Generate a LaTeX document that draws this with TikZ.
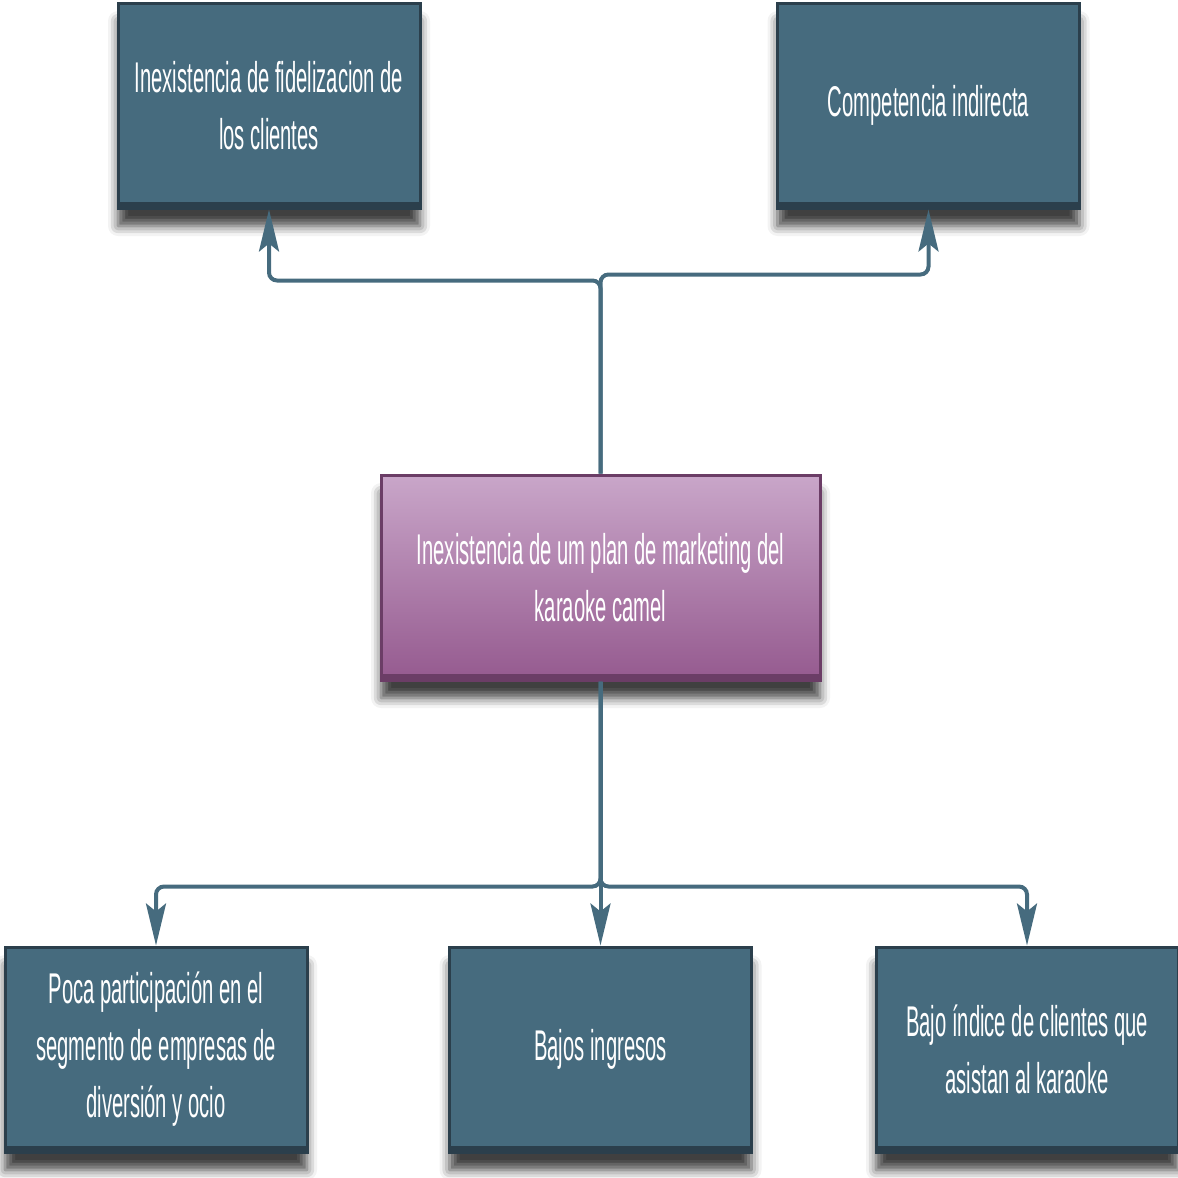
\documentclass[tikz,border=0pt]{standalone}
\usepackage{fontspec}
\setmainfont{Liberation Sans}[FakeStretch=0.47]
\usepackage{tikz}
\usetikzlibrary{arrows.meta,shadows.blur}
\usepackage{xcolor}
\definecolor{cajaazul}{HTML}{466B7E}
\definecolor{bordeazul}{HTML}{2B3F4C}
\definecolor{moradoclaro}{HTML}{C9A6C9}
\definecolor{moradooscuro}{HTML}{955A8F}
\definecolor{bordemorado}{HTML}{6B3D66}

\begin{document}
\begin{tikzpicture}[x=0.5pt,y=-0.5pt,
  caja/.style={rectangle,draw=bordeazul,line width=1.5pt,fill=cajaazul,text=white,
    minimum width=151pt,minimum height=102.5pt,align=center,inner sep=0pt,
    font=\fontsize{21.5}{28.5}\selectfont,
    blur shadow={shadow xshift=0pt,shadow yshift=-9pt,shadow blur radius=5pt,shadow opacity=75},
    path picture={\fill[bordeazul] (path picture bounding box.south west) rectangle ([yshift=3pt]path picture bounding box.south east);}},
  problemabox/.style={caja,draw=bordemorado,top color=moradoclaro,bottom color=moradooscuro,
    minimum width=219.5pt,
    path picture={\fill[bordemorado] (path picture bounding box.south west) rectangle ([yshift=3pt]path picture bounding box.south east);}},
  conector/.style={draw=cajaazul,line width=2pt,rounded corners=4pt,
    -{Stealth[length=21pt,width=10pt,inset=4pt]}}]
  \useasboundingbox (0,0) rectangle (1178,1178);

  \node[problemabox] (problema) at (600.5,577.5) {Inexistencia de um plan de marketing del\\karaoke camel};

  \node[caja] (efecto1) at (269,105.5) {Inexistencia de fidelizacion de\\los clientes};
  \node[caja] (efecto2) at (928.5,105.5) {Competencia indirecta};

  \node[caja] (causa1) at (156,1049.5) {Poca participación en el\\segmento de empresas de\\diversión y ocio};
  \node[caja] (causa2) at (600.5,1049.5) {Bajos ingresos};
  \node[caja] (causa3) at (1027,1049.5) {Bajo índice de clientes que\\asistan al karaoke};

  % efectos
  \draw[conector] (problema.north) -- ++(0,-193) -| (efecto1.south);
  \draw[conector] (problema.north) -- ++(0,-199) -| (efecto2.south);
  % causas
  \foreach \c in {causa1,causa3} {\draw[conector] (problema.south) -- ++(0,205) -| (\c.north);}
  \draw[conector] (problema.south) -- (causa2.north);
\end{tikzpicture}
\end{document}
